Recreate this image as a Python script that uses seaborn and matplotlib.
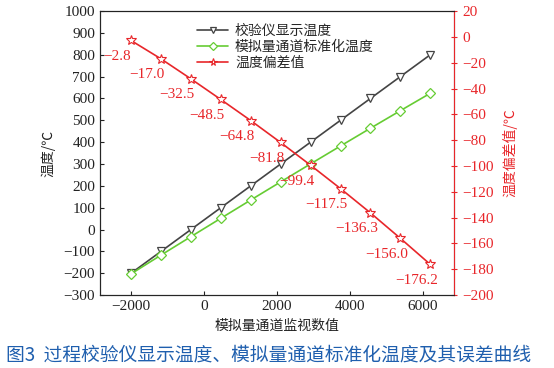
import matplotlib
matplotlib.use("Agg")
import matplotlib.pyplot as plt
import seaborn as sns
import pandas as pd

# data
monitor_values = [-2000, -1180, -360, 460, 1280, 2100, 2920, 3740, 4560, 5380, 6200]
calibrator_temp = [-200, -100, 0, 100, 200, 300, 400, 500, 600, 700, 800]
deviation = [-2.8, -17.0, -32.5, -48.5, -64.8, -81.8, -99.4, -117.5, -136.3, -156.0, -176.2]
channel_temp = [-202.8, -117.0, -32.5, 51.5, 135.2, 218.2, 300.6, 382.5, 463.7, 544.0, 623.8]

left_ticks = list(range(-300, 1001, 100))
right_ticks = list(range(-200, 21, 20))
x_ticks = [-2000, 0, 2000, 4000, 6000]

df = pd.DataFrame({
    "x": monitor_values,
    "calib": calibrator_temp,
    "channel": channel_temp,
    "dev": deviation,
})

sns.set_style("ticks")
plt.rcParams["font.family"] = ["Liberation Serif", "Noto Sans CJK SC"]
plt.rcParams["axes.unicode_minus"] = True

RED = "#e8262a"
GREEN = "#66cc33"
DARK = "#444444"
CJK = ["Noto Sans CJK SC", "DejaVu Sans"]

fig = plt.figure(figsize=(5.54, 3.68), dpi=100)
ax = fig.add_axes([0.1805, 0.198, 0.639, 0.772])
ax2 = ax.twinx()

sns.lineplot(data=df, x="x", y="calib", ax=ax, color=DARK, marker="v", markersize=6,
             markerfacecolor="white", markeredgecolor=DARK, markeredgewidth=0.9,
             linewidth=1.2, label="校验仪显示温度", legend=False)
sns.lineplot(data=df, x="x", y="channel", ax=ax, color=GREEN, marker="D", markersize=5,
             markerfacecolor="white", markeredgecolor=GREEN, markeredgewidth=0.9,
             linewidth=1.2, label="模拟量通道标准化温度", legend=False)
sns.lineplot(data=df, x="x", y="dev", ax=ax2, color=RED, marker="*", markersize=7,
             markerfacecolor="white", markeredgecolor=RED, markeredgewidth=0.8,
             linewidth=1.2, label="温度偏差值", legend=False)

for xv, dv in zip(monitor_values, deviation):
    ax2.annotate(f"{dv:.1f}".replace("-", "\u2212"), (xv, dv), xytext=(-14, -16),
                 textcoords="offset pixels", ha="center", va="center",
                 color=RED, fontsize=11)

ax.set_xlim(-2850, 6850)
ax.set_ylim(-300, 1000)
ax.set_xticks(x_ticks)
ax.set_yticks(left_ticks)
ax2.set_ylim(-200, 20)
ax2.set_yticks(right_ticks)

ax.tick_params(axis="both", labelsize=11, colors="#222222", direction="in", length=3)
ax.tick_params(axis="x", top=False)
ax2.tick_params(axis="y", colors=RED, labelcolor=RED, direction="inout", length=5, labelsize=11)
for s in ["left", "bottom", "top"]:
    ax.spines[s].set_color("#222222")
ax2.spines["right"].set_color(RED)
ax2.spines["top"].set_color("#222222")

ax.set_xlabel("模拟量通道监视数值", fontsize=10, family=CJK, color="#222222", labelpad=4)
ax.set_ylabel("温度/℃", fontsize=10, family=CJK, color="#222222", labelpad=6)
ax2.set_ylabel("温度偏差值/℃", fontsize=10, family=CJK, color=RED, labelpad=6)

h1, l1 = ax.get_legend_handles_labels()
h2, l2 = ax2.get_legend_handles_labels()
leg = ax2.legend(h1 + h2, l1 + l2, loc="upper left", bbox_to_anchor=(0.24, 1.0),
                 frameon=False, handlelength=2.2, handletextpad=0.5, markerscale=0.8,
                 labelspacing=0.15, prop={"family": CJK, "size": 10})

fig.text(0.01, 0.035, "图3  过程校验仪显示温度、模拟量通道标准化温度及其误差曲线",
         family=CJK, fontsize=13.5, color="#1f5fae", ha="left", va="center")

fig.savefig("out.png", dpi=100)
